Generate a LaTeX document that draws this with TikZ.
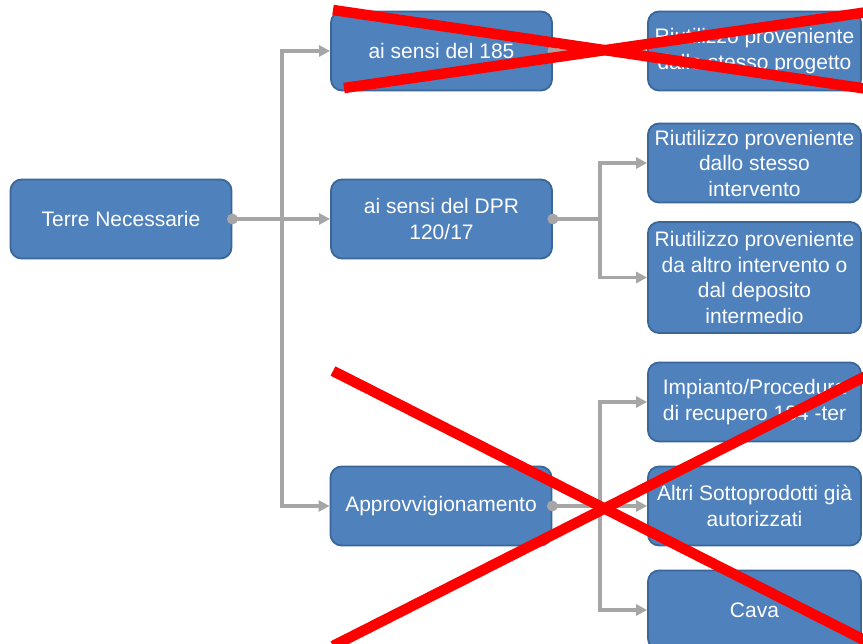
\documentclass[tikz,border=0pt]{standalone}
\usepackage{fontspec}
\setmainfont{Liberation Sans}
\usetikzlibrary{arrows.meta}
\definecolor{boxfill}{HTML}{4F81BD}
\definecolor{boxline}{HTML}{3A6797}
\definecolor{linkgray}{HTML}{A6A6A6}
\definecolor{crossred}{HTML}{FF0000}
\tikzset{
  box/.style={draw=boxline, line width=1.8pt, fill=boxfill, rounded corners=11pt,
    minimum width=221pt, minimum height=79pt, inner sep=0pt, align=center,
    text=white, font=\fontsize{21}{25.5}\selectfont},
  rbox/.style={box, minimum width=213pt},
  link/.style={draw=linkgray, line width=3.2pt, -{Triangle[length=11pt,width=11pt]}},
  trunk/.style={draw=linkgray, line width=3.2pt},
  dot/.style={fill=linkgray, circle, inner sep=0pt, minimum size=11pt},
  strike/.style={draw=crossred, line width=10.5pt}
}
\begin{document}
\begin{tikzpicture}[x=1pt,y=-1pt]
\useasboundingbox (0,0) rectangle (863,644);
\clip (0,0) rectangle (863,644);

% junction points of the tree
\coordinate (j1) at (282,219);
\coordinate (j2) at (600,219);
\coordinate (j3) at (600,506);

% boxes
\node[box] (tn) at (121,219) {Terre Necessarie};
\node[box] (s185) at (441.5,51) {ai sensi del 185};
\node[box] (dpr) at (441.5,219) {ai sensi del DPR\\120/17};
\node[box] (app) at (441,506) {Approvvigionamento};
\node[rbox] (r0) at (754.5,51) {Riutilizzo proveniente\\dallo stesso progetto};
\node[rbox] (r1) at (754.5,163) {Riutilizzo proveniente\\dallo stesso\\intervento};
\node[rbox, minimum height=111pt] (r2) at (754.5,277.5) {Riutilizzo proveniente\\da altro intervento o\\dal deposito\\intermedio};
\node[rbox] (imp) at (754.5,402) {Impianto/Procedura\\di recupero 184 -ter};
\node[rbox] (altri) at (754.5,506) {Altri Sottoprodotti già\\autorizzati};
\node[rbox] (cava) at (754.5,610) {Cava};

% connectors
\path[trunk] (tn.east) -- (j1);
\path[link] (j1) -- (dpr.west);
\path[link] (j1) |- (s185.west);
\path[link] (j1) |- (app.west);
\path[link] (s185.east) -- (r0.west);
\path[trunk] (dpr.east) -- (j2);
\path[link] (j2) |- (r1.west);
\path[link] (j2) |- (r2.west);
\path[trunk] (app.east) -- (j3);
\path[link] (j3) |- (imp.west);
\path[link] (j3) -- (altri.west);
\path[link] (j3) |- (cava.west);

\node[dot] at (tn.east) {};
\node[dot] at (s185.east) {};
\node[dot] at (dpr.east) {};
\node[dot] at (app.east) {};

% crossings-out
\coordinate (a1) at (333,10);
\coordinate (a2) at (868,89);
\coordinate (b1) at (344,88);
\coordinate (b2) at (868,12);
\draw[strike] (a1) -- (a2);
\draw[strike] (b1) -- (b2);
\coordinate (c1) at (333,371);
\coordinate (c2) at (868,642);
\coordinate (d1) at (333,646);
\coordinate (d2) at (868,375);
\draw[strike] (c1) -- (c2);
\draw[strike] (d1) -- (d2);
\end{tikzpicture}
\end{document}
